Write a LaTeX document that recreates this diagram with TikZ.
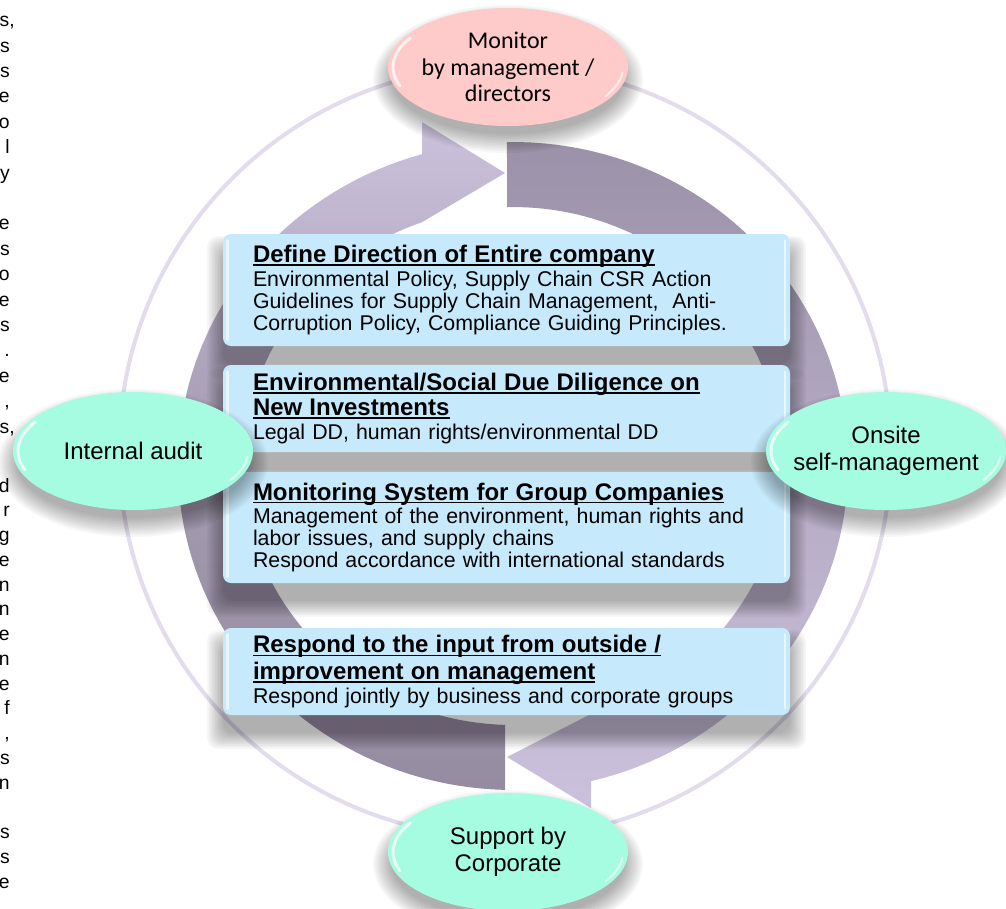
\documentclass[tikz,border=0pt]{standalone}
\usepackage{fontspec}
\setmainfont{Liberation Sans}
\newfontfamily\calfont{Carlito}
\usetikzlibrary{shapes.geometric}
\definecolor{mint}{RGB}{166,252,224}
\definecolor{pinkc}{RGB}{255,202,202}
\definecolor{boxc}{RGB}{198,234,252}
\definecolor{ringc}{RGB}{226,220,236}
\definecolor{arlight}{RGB}{203,193,220}
\definecolor{armidA}{RGB}{163,154,176}
\definecolor{ardarkA}{RGB}{150,140,162}
\definecolor{ardarkB}{RGB}{155,145,168}
\definecolor{armidB}{RGB}{181,171,196}
\newcommand\myul[1]{\leavevmode\setbox0\hbox{#1}\rlap{\rule[-2.3pt]{\wd0}{1.1pt}}\box0}
\newcommand\ttl[1]{\leavevmode{\fontsize{18}{16.5}\selectfont\bfseries\myul{#1}}}
\newcommand\fr[3]{\node[frag] (#1) at (10,#2) {#3};}
% soft shadow of a box: x1 y1 x2 y2 (pixels)
\newcommand\boxshadow[4]{\foreach \k in {0,...,10}{%
  \fill[black, opacity=0.03, rounded corners=8pt] ({#1-1.6*\k},{#2+18-1.6*\k}) rectangle ({#3+1.6*\k},{#4+18+1.6*\k});}}
% soft shadow of an ellipse: cx cy (pixels)
\newcommand\ellshadow[2]{\foreach \k in {0,...,10}{%
  \fill[black, opacity=0.03] (#1,{#2+12}) ellipse [x radius={(116+1.9*\k)*0.75pt}, y radius={(55+1.9*\k)*0.75pt}];}}
\begin{document}
\begin{tikzpicture}[x=0.75pt,y=-0.75pt,
  frag/.style={anchor=base east, inner sep=0pt, font=\fontsize{14.5}{17}\selectfont},
  ell/.style={ellipse, minimum width=180pt, minimum height=88.5pt, inner sep=-8pt, align=center,
    font=\fontsize{18}{20.25}\selectfont},
  bx/.style={rectangle, rounded corners=6pt, fill=boxc, text width=380.25pt, inner xsep=22.5pt,
    inner ysep=0pt, align=left, font=\fontsize{16}{16.5}\selectfont},
  hl/.style={white, line width=2.2pt, opacity=0.75, line cap=round},
  ring/.style={draw=ringc, line width=3pt}
]
\useasboundingbox (0,0) rectangle (1006,908);
\fill[white] (0,0) rectangle (1006,908);

% cut-off text at the left edge
\node[frag] (f1) at (15,26.6) {s,};
\fr{f2}{52.0}{s}
\fr{f3}{77.4}{s}
\fr{f4}{102.8}{e}
\fr{f5}{128.2}{o}
\fr{f6}{153.6}{l}
\fr{f7}{179.0}{y}
\fr{f8}{229.8}{e}
\fr{f9}{255.2}{s}
\fr{f10}{280.6}{o}
\fr{f11}{306.0}{e}
\fr{f12}{331.4}{s}
\fr{f13}{356.8}{.}
\fr{f14}{382.2}{e}
\fr{f15}{407.6}{,}
\node[frag] (f16) at (15,433.0) {s,};
\fr{g1}{492}{d}
\fr{g2}{516.75}{r}
\fr{g3}{541.5}{g}
\fr{g4}{566.25}{e}
\fr{g5}{591}{n}
\fr{g6}{615.75}{n}
\fr{g7}{640.5}{e}
\fr{g8}{665.25}{n}
\fr{g9}{690}{e}
\fr{g10}{714.75}{f}
\fr{g11}{739.5}{,}
\fr{g12}{764.25}{s}
\fr{g13}{789}{n}
\fr{g14}{838.5}{s}
\fr{g15}{863.25}{s}
\fr{g16}{888}{e}

% outer ring
\draw[ring] (505,451.5) circle[radius=289.5pt];

% circular arrows
\shade[top color=arlight, bottom color=ardarkA, middle color=armidA]
  plot[domain=105.76:268.63, samples=80] ({513+335*cos(\x)},{466-324*sin(\x)})
  -- plot[domain=268.3:109.7, samples=80] ({513+270*cos(\x)},{466-259*sin(\x)})
  -- (505,173) -- (422,122) -- cycle;
\shade[top color=ardarkB, bottom color=arlight, middle color=armidB]
  plot[domain=91.03:-76.5, samples=80] ({513+335*cos(\x)},{466-324*sin(\x)})
  -- (591,808) -- (507,757)
  -- plot[domain=-73.2:91.27, samples=80] ({513+270*cos(\x)},{466-259*sin(\x)})
  -- cycle;

% box shadows
\boxshadow{223}{234}{790}{346}
\boxshadow{223}{365}{790}{452}
\boxshadow{223}{472}{790}{583}
\boxshadow{223}{628}{790}{715}

% boxes
\node[bx, minimum height=84pt] (b1) at (506.5,290)
  {\ttl{Define Direction of Entire company}\\[1pt]
   Environmental Policy, Supply Chain CSR Action\\
   Guidelines for Supply Chain Management,\hspace{10.5pt}Anti-\\
   Corruption Policy, Compliance Guiding Principles.};
\node[bx, minimum height=65.25pt] (b2) at (506.5,408.5)
  {\ttl{Environmental/Social Due Diligence on}\\[2.25pt]
   \ttl{New Investments}\\[1pt]
   Legal DD, human rights/environmental DD};
\node[bx, minimum height=83.25pt] (b3) at (506.5,527.5)
  {\ttl{Monitoring System for Group Companies}\\[1pt]
   Management of the environment, human rights and\\
   labor issues, and supply chains\\
   Respond accordance with international standards};
\node[bx, minimum height=65.25pt] (b4) at (506.5,671.5)
  {\ttl{Respond to the input from outside /}\\[2.25pt]
   \ttl{improvement on management}\\[1pt]
   Respond jointly by business and corporate groups};
\foreach \b in {b1,b2,b3,b4}{
  \draw[hl, line width=2pt, opacity=0.6] ([xshift=3.5pt,yshift=-5pt]\b.north west) -- ([xshift=3.5pt,yshift=5pt]\b.south west);
  \draw[hl, line width=1.5pt, opacity=0.6] ([xshift=-4pt,yshift=-5pt]\b.north east) -- ([xshift=-4pt,yshift=5pt]\b.south east);
}

% ellipse shadows
\ellshadow{508}{67}
\ellshadow{133}{451}
\ellshadow{886}{451}
\ellshadow{508}{852}

% ellipses
\node[ell, fill=pinkc, font=\calfont\fontsize{18}{19.9}\selectfont] (mon) at (508,67)
  {Monitor\\by management /\\directors};
\node[ell, fill=mint] (ia) at (133,451) {Internal audit};
\node[ell, fill=mint] (os) at (886,451) {Onsite\\self-management};
\node[ell, fill=mint] (sc) at (508,852) {Support by\\Corporate};
\foreach \e in {mon,ia,os,sc}{
  \begin{scope}[shift={(\e.center)}]
    \draw[hl] plot[domain=148:200, samples=30] ({115*cos(\x)},{-55*sin(\x)});
    \draw[hl, line width=1.6pt, opacity=0.6] plot[domain=-32:-6, samples=20] ({115*cos(\x)},{-55*sin(\x)});
  \end{scope}
}
\end{tikzpicture}
\end{document}
